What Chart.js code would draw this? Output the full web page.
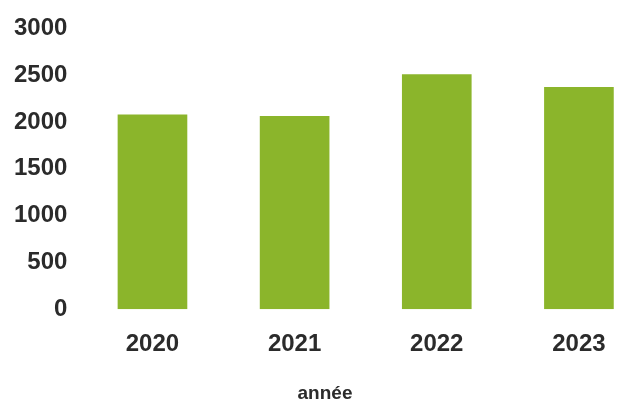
<!DOCTYPE html>
<html>
<head>
<meta charset="utf-8">
<script src="https://cdn.jsdelivr.net/npm/chart.js@4"></script>
<style>
  html, body { margin: 0; padding: 0; background: #fff; overflow: hidden; }
  #wrap { width: 690px; height: 403px; }
</style>
</head>
<body>
<div id="wrap"><canvas id="grafico" width="690" height="403"></canvas></div>
<script>
const annees = ['2020', '2021', '2022', '2023'];
const valeurs = [2080, 2065, 2510, 2375];
const ticksY = [0, 500, 1000, 1500, 2000, 2500, 3000];

const police = "'Liberation Sans', Arial, sans-serif";
const couleurTexte = '#2b2b2b';

const ctx = document.getElementById('grafico').getContext('2d');

new Chart(ctx, {
    type: 'bar',
    data: {
        labels: annees,
        datasets: [{
            data: valeurs,
            backgroundColor: '#8bb52b',
            borderWidth: 0,
            categoryPercentage: 1,
            barPercentage: 0.49
        }]
    },
    options: {
        responsive: false,
        animation: false,
        devicePixelRatio: 1,
        layout: {
            padding: { left: 0, right: 40, top: 10, bottom: 0 }
        },
        plugins: {
            legend: { display: false },
            tooltip: { enabled: false },
            title: {
                display: true,
                position: 'bottom',
                text: 'année',
                color: couleurTexte,
                padding: { top: 4, bottom: 0 },
                font: { family: police, size: 19, weight: 'bold', lineHeight: 1 }
            }
        },
        scales: {
            x: {
                grid: { display: false, drawTicks: false },
                border: { display: false },
                ticks: {
                    color: couleurTexte,
                    padding: 21,
                    maxRotation: 0,
                    font: { family: police, size: 24, weight: 'bold' }
                }
            },
            y: {
                min: 0,
                max: 3000,
                afterBuildTicks: axis => {
                    axis.ticks = ticksY.map(v => ({ value: v }));
                },
                grid: { display: false, drawTicks: false },
                border: { display: false },
                ticks: {
                    color: couleurTexte,
                    padding: 14,
                    callback: v => String(v),
                    font: { family: police, size: 24, weight: 'bold' }
                }
            }
        }
    }
});
</script>
</body>
</html>
